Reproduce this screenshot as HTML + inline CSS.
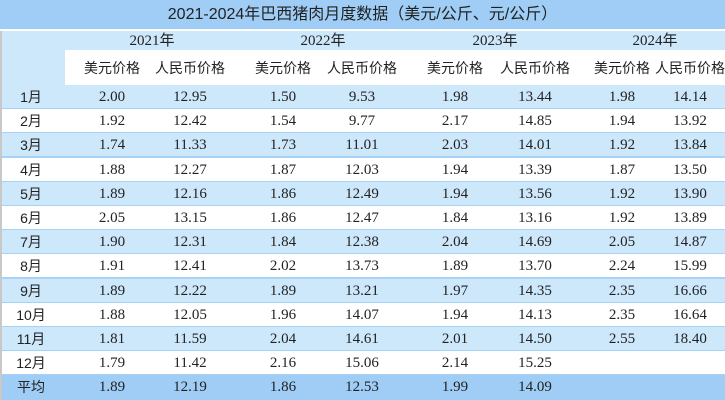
<!DOCTYPE html><html><head><meta charset="utf-8"><style>
body{margin:0;width:725px;height:400px;overflow:hidden;background:#fff;position:relative;font-family:"Liberation Serif","Noto Sans CJK SC",serif;color:#222}
div{position:absolute;box-sizing:border-box}
.t{text-align:center;white-space:nowrap;font-size:15px}
.cjk{font-family:"Liberation Sans","Noto Sans CJK SC",sans-serif;font-size:14px}
</style></head><body>
<div style="left:0;top:0;width:725px;height:29px;background:#9fcdf5"></div>
<div class="t cjk" style="left:0;top:4px;width:725px;font-size:16px;line-height:22px">2021-2024年巴西猪肉月度数据（美元/公斤、元/公斤）</div>
<div style="left:0;top:31px;width:725px;height:54px;background:#cde7fb"></div>
<div style="left:65px;top:50px;width:660px;height:35px;background:#fff"></div>
<div id="rows"></div>
<div style="left:0;top:31px;width:2px;height:369px;background:#c8c8c8"></div>
<script>
const yrs=[["2021年",152],["2022年",323],["2023年",495],["2024年",655]];
const cols=[112,190,283,362,455,535,622,690];
let h="";
yrs.forEach(y=>h+=`<div class="t" style="left:${y[1]-50}px;top:32px;width:100px;line-height:18px">${y[0]}</div>`);
cols.forEach((c,i)=>h+=`<div class="t cjk" style="left:${c-45}px;top:58px;width:90px;line-height:20px">${i%2?"人民币价格":"美元价格"}</div>`);
const d=[["1月","2.00 12.95 1.50 9.53 1.98 13.44 1.98 14.14"],["2月","1.92 12.42 1.54 9.77 2.17 14.85 1.94 13.92"],["3月","1.74 11.33 1.73 11.01 2.03 14.01 1.92 13.84"],["4月","1.88 12.27 1.87 12.03 1.94 13.39 1.87 13.50"],["5月","1.89 12.16 1.86 12.49 1.94 13.56 1.92 13.90"],["6月","2.05 13.15 1.86 12.47 1.84 13.16 1.92 13.89"],["7月","1.90 12.31 1.84 12.38 2.04 14.69 2.05 14.87"],["8月","1.91 12.41 2.02 13.73 1.89 13.70 2.24 15.99"],["9月","1.89 12.22 1.89 13.21 1.97 14.35 2.35 16.66"],["10月","1.88 12.05 1.96 14.07 1.94 14.13 2.35 16.64"],["11月","1.81 11.59 2.04 14.61 2.01 14.50 2.55 18.40"],["12月","1.79 11.42 2.16 15.06 2.14 15.25"],["平均","1.89 12.19 1.86 12.53 1.99 14.09"]];
d.forEach((r,i)=>{const y=85+i*24.2;const bg=i==12?"#9fcdf5":(i%2==0?"#cde7fb":"#fff");
h+=`<div style="left:0;top:${y}px;width:725px;height:${i==12?25:23.5}px;background:${bg}"></div>`;
if(i<12)h+=`<div style="left:0;top:${y+23}px;width:725px;height:2px;background:#a6d2f5"></div>`;
h+=`<div class="t cjk" style="left:0;top:${y+2}px;width:62px;line-height:20px">${r[0]}</div>`;
r[1].split(" ").forEach((v,j)=>h+=`<div class="t" style="left:${cols[j]-40}px;top:${y+2}px;width:80px;line-height:20px">${v}</div>`);});
document.getElementById("rows").outerHTML=h;
</script>
</body></html>
